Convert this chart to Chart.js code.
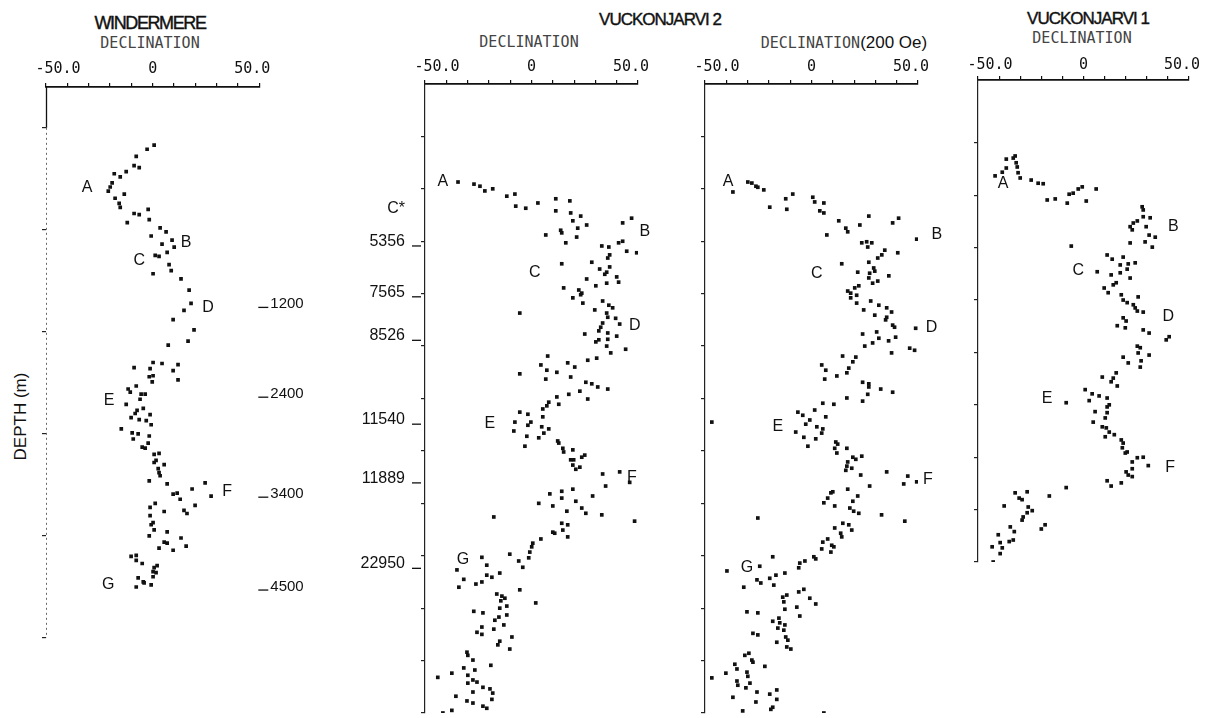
<!DOCTYPE html>
<html>
<head>
<meta charset="utf-8">
<script src="https://cdn.jsdelivr.net/npm/chart.js@4.4.0/dist/chart.umd.min.js"></script>
<style>
    body { margin: 0; background: #fff; width: 1211px; height: 718px; position: relative; overflow: hidden; font-family: 'Liberation Sans', Arial, sans-serif; color: #111; }
    canvas { position: absolute; top: 0; }
    .t { position: absolute; text-align: center; white-space: nowrap; }
    .site { font-size: 17px; line-height: 17px; letter-spacing: -1px; -webkit-text-stroke: 0.4px #111; }
    .sub { font-family: 'DejaVu Sans Mono', monospace; font-size: 15px; line-height: 15px; letter-spacing: 0; color: #444; }
    .oe { font-family: 'Liberation Sans', sans-serif; font-size: 17px; letter-spacing: 0; color: #111; }
    .depth { font-size: 17px; line-height: 17px; }
</style>
</head>
<body>
<div class="t site" style="left:70px;top:15px;width:160px;letter-spacing:-1.4px;font-size:18px">WINDERMERE</div>
<div class="t sub" style="left:70px;top:36px;width:160px">DECLINATION</div>

<div class="t site" style="left:580px;top:11px;width:160px">VUCKONJARVI 2</div>
<div class="t sub" style="left:449px;top:35px;width:160px">DECLINATION</div>
<div class="t sub" style="left:734px;top:35px;width:220px">DECLINATION<span class="oe">(200 Oe)</span></div>

<div class="t site" style="left:1008px;top:10px;width:160px">VUCKONJARVI 1</div>
<div class="t sub" style="left:1002px;top:31px;width:160px">DECLINATION</div>

<div class="t depth" style="left:-40px;top:408px;width:120px;transform:rotate(-90deg)">DEPTH (m)</div>

<canvas id="grafWindermere" width="310" height="718" style="left:0px"></canvas>
<canvas id="grafVuck2" width="330" height="718" style="left:340px"></canvas>
<canvas id="grafVuck2Oe" width="280" height="718" style="left:680px"></canvas>
<canvas id="grafVuck1" width="261" height="718" style="left:950px"></canvas>

<script>
// eixo de declinação (igual nos quatro gráficos)
const xTickValues = [-50, -40, -30, -20, -10, 0, 10, 20, 30, 40, 50];
const xLabelValues = [-50, 0, 50];
const xLabelTexts = ['-50.0', '0', '50.0'];
const letterNames = ['A', 'B', 'C', 'D', 'E', 'F', 'G'];

// WINDERMERE  [declinação, profundidade]
const windermerePoints = [
    [0.7,1.17],[-2.6,1.21],[-7.7,1.28],[-8.7,1.37],[-6.3,1.39],[-12.4,1.43],[-15.2,1.48],[-18.0,1.45],
    [-19.0,1.54],[-19.9,1.58],[-20.8,1.62],[-17.6,1.69],[-13.3,1.65],[-15.7,1.74],[-15.2,1.78],[-8.7,1.84],
    [-6.3,1.85],[-2.1,1.80],[-1.6,1.90],[-11.9,1.93],[3.5,1.98],[6.3,2.02],[-0.7,2.06],[4.4,2.14],
    [9.1,2.10],[10.1,2.17],[1.2,2.25],[3.0,2.26],[6.8,2.22],[7.7,2.34],[8.7,2.40],[0.2,2.43],
    [13.3,2.48],[17.1,2.59],[18.0,2.72],[14.7,2.79],[9.6,2.88],[19.4,2.98],[16.6,3.09],[7.3,3.13],
    [0.2,3.30],[4.4,3.31],[-8.7,3.35],[-1.2,3.36],[11.9,3.32],[9.6,3.38],[-1.6,3.44],[0.2,3.43],
    [-0.2,3.49],[11.9,3.47],[-11.5,3.56],[-7.7,3.53],[-10.5,3.59],[-5.4,3.61],[-3.5,3.61],[-5.9,3.66],
    [-12.4,3.71],[-7.3,3.77],[-8.2,3.80],[-4.4,3.75],[-1.2,3.81],[-10.1,3.84],[-6.3,3.86],[-3.0,3.87],
    [-0.7,3.91],[-14.7,3.95],[-9.6,3.99],[-6.8,4.00],[-1.6,4.02],[-9.1,4.05],[-4.9,4.13],[-3.5,4.14],
    [-2.1,4.09],[0.7,4.20],[3.0,4.19],[1.6,4.26],
    [0.7,4.28],[5.4,4.30],[2.6,4.34],[3.0,4.38],[3.5,4.41],[-1.6,4.46],[6.8,4.49],[18.5,4.54],
    [24.6,4.48],[27.4,4.61],[9.6,4.59],[11.5,4.58],[12.9,4.64],[19.9,4.70],[14.7,4.75],[16.1,4.78],
    [1.2,4.68],[-1.2,4.72],[5.4,4.76],[-1.2,4.80],[0.2,4.87],[-0.7,4.89],[0.7,4.94],[-1.6,5.00],
    [6.8,4.96],[5.4,5.06],[6.8,5.07],[13.3,5.02],[15.7,5.10],[3.0,5.12],[9.6,5.14],[-10.1,5.20],
    [-7.7,5.19],[-7.7,5.24],[-4.9,5.27],[2.1,5.29],[0.7,5.31],[0.2,5.35],[1.6,5.36],[0.2,5.40],
    [-6.8,5.41],[-4.4,5.45],[-4.0,5.46],[-7.7,5.50],[-0.7,5.48]
];
const windermereLetters = [[-30.7,1.59],[15.7,2.12],[-6.3,2.30],[26.0,2.76],[-20.4,3.67],[34.9,4.57],[-20.8,5.48]];
const windermereAges = ['1200', '2400', '3400', '4500'];
const windermereAgeDepths = [2.76, 3.64, 4.62, 5.53];
const windermereDepthTicks = [1, 2, 3, 4, 5, 6];

// VUCKONJARVI 2 - declinação
const vuck2Points = [
    [-34.5,1.87],[-27.0,1.91],[-24.2,1.95],[-21.9,2.04],[-18.2,2.00],[-11.6,2.14],[-7.8,2.10],[-7.4,2.33],
    [-2.7,2.37],[3.0,2.27],[11.4,2.19],[18.0,2.23],[11.4,2.42],[18.4,2.46],[19.4,2.61],[23.1,2.52],
    [21.7,2.75],[25.9,2.69],[6.7,2.88],[13.7,2.79],[14.2,2.84],[21.2,2.92],[42.8,2.65],[47.0,2.56],
    [16.1,3.03],[33.0,3.09],[36.3,3.11],[40.9,3.03],[42.8,3.00],[44.7,3.19],[49.4,3.22],[36.7,3.26],
    [35.8,3.32],[28.3,3.40],[14.2,3.43],[32.0,3.53],[35.3,3.59],[36.7,3.49],[34.4,3.63],[40.0,3.68],
    [40.9,3.78],[25.9,3.72],[30.2,3.85],[35.3,3.80],[15.1,3.89],[22.2,3.93],[23.6,3.99],[19.4,4.08],
    [23.1,4.02],[24.1,4.18],[33.4,4.14],[36.3,4.22],[38.1,4.27],[29.7,4.31],[35.3,4.37],[35.8,4.45],
    [39.5,4.47],[41.4,4.58],[33.4,4.56],[32.5,4.64],[31.6,4.71],[25.0,4.77],[35.8,4.75],[40.0,4.81],
    [30.2,4.92],[31.6,4.88],[35.8,4.87],[35.3,5.00],[37.2,5.13],[44.2,5.06],[7.6,5.19],[4.4,5.36],
    [7.2,5.46],[-5.5,5.53],[17.0,5.32],[20.3,5.40],[11.9,5.50],[6.7,5.63],[18.4,5.59],[26.4,5.27],
    [30.6,5.23],[25.5,5.69],[28.3,5.72],[31.1,5.78],[35.8,5.82],[22.7,5.86],[17.5,5.92],[11.9,5.97],
    [26.4,6.01],[8.1,6.07],[7.2,6.14],[12.8,6.11],[5.3,6.20],[5.3,6.35],[-5.5,6.26],[-1.7,6.30],
    [-0.3,6.45],[-7.8,6.45],[-8.3,6.62],[-1.7,6.51],[4.8,6.54],[8.1,6.58],[5.8,6.66],[3.4,6.75],
    [-2.2,6.72],[-3.1,6.91],[12.3,6.81],[12.8,6.85],[14.7,6.95],[15.1,7.02],[19.4,6.98],[19.8,7.17],
    [18.4,7.17],[19.4,7.27],[22.7,7.31],[20.8,7.35],[25.0,7.08],[23.6,7.12],[33.4,7.44],[41.4,7.40],
    [-5.5,4.37],
    [46.1,7.60],[34.8,7.67],[19.4,7.73],[14.2,7.77],[8.6,7.82],[3.4,8.00],[10.0,8.05],[14.2,7.90],
    [20.8,7.96],[28.7,7.86],[16.6,8.15],[23.6,8.09],[25.5,8.19],[33.0,8.22],[48.4,8.34],[-17.7,8.26],
    [14.2,8.38],[17.0,8.41],[10.0,8.55],[10.9,8.57],[14.7,8.51],[17.0,8.64],[4.4,8.68],[0.6,8.76],
    [0.1,8.83],[-0.8,8.93],[-1.3,9.04],[-10.2,8.97],[-6.0,9.10],[-4.1,9.22],[-5.5,9.65],[2.0,9.90],
    [-23.3,9.03],[-21.0,9.18],[-35.0,9.27],[-31.8,9.45],[-34.1,9.60],[-26.1,9.54],[-23.3,9.50],[-21.0,9.37],
    [-18.6,9.41],[-14.9,9.33],[-16.3,9.73],[-13.9,9.77],[-12.5,9.81],[-14.4,9.86],[-11.6,9.96],[-14.9,10.00],
    [-11.6,10.13],[-13.0,10.32],[-17.2,10.23],[-15.3,10.17],[-17.7,10.40],[-9.2,10.55],[-14.9,10.63],[-15.8,10.70],
    [-10.2,10.78],[-27.1,10.06],[-22.8,10.09],[-23.3,10.36],[-25.6,10.46],[-23.3,10.50],[-30.3,10.84],[-29.9,10.90],
    [-27.5,10.99],[-31.8,11.14],[-26.6,11.18],[-29.9,11.28],[-27.5,11.37],[-25.6,11.41],[-22.8,11.51],[-29.9,11.43],
    [-19.1,11.09],[-37.4,11.24],[-44.0,11.32],[-27.5,11.60],[-19.5,11.54],[-18.2,11.62],[-18.6,11.74],[-35.5,11.68],
    [-30.3,11.77],[-27.5,11.81],[-22.8,11.87],[-21.0,11.91],[-37.4,11.95],[-41.6,12.0]
];
const vuck2Letters = [[-41.6,1.87],[53.2,2.82],[1.5,3.59],[48.5,4.60],[-19.6,6.47],[47.1,7.50],[-32.2,9.08]];
const vuck2Ages = ['C*', '5356', '7565', '8526', '11540', '11889', '22950'];
const vuck2AgeDepths = [2.46, 3.09, 4.06, 4.89, 6.49, 7.61, 9.24];
const vuck2DepthTicks = [1, 2, 3, 4, 5, 6, 7, 8, 9, 10, 11, 12];

// VUCKONJARVI 2 - declinação (200 Oe)
const vuck2OePoints = [
    [-36.9,2.06],[-29.9,1.87],[-28.0,1.89],[-26.1,1.95],[-25.2,1.97],[-22.4,2.02],[-19.6,2.35],[-12.1,2.19],
    [-8.8,2.10],[-11.6,2.39],[0.6,2.16],[1.5,2.25],[5.8,2.27],[3.9,2.42],[5.8,2.46],[7.2,2.88],
    [12.8,2.61],[16.1,2.75],[17.0,2.82],[22.7,2.69],[26.9,2.52],[38.1,2.65],[40.9,2.56],[49.4,2.96],
    [23.6,3.03],[25.9,3.01],[28.3,3.03],[26.4,3.11],[34.4,3.17],[33.0,3.26],[31.1,3.32],[40.5,3.22],
    [14.2,3.43],[26.9,3.40],[21.7,3.59],[29.2,3.51],[29.7,3.57],[27.3,3.61],[26.9,3.70],[28.7,3.80],
    [31.1,3.76],[36.3,3.66],[17.0,3.95],[18.4,3.99],[20.3,3.89],[22.2,3.85],[21.2,4.03],[18.4,4.08],
    [21.2,4.18],[27.8,4.14],[24.5,4.31],[31.6,4.22],[35.3,4.27],[37.6,4.35],[29.7,4.41],[35.3,4.45],
    [34.8,4.50],[38.1,4.60],[39.0,4.64],[24.0,4.77],[30.6,4.73],[25.0,5.00],[28.7,4.94],[31.6,4.85],
    [36.2,4.90],[39.5,4.83],[37.6,5.13],[46.1,5.04],[48.4,5.08],[48.9,4.66],[14.6,5.19],[20.8,5.21],
    [19.4,5.30],[17.5,5.42],[16.6,5.51],[11.9,5.57],[4.8,5.36],[6.7,5.46],[6.2,5.63],[24.0,5.69],
    [26.9,5.72],[26.9,5.78],[32.5,5.82],[38.1,5.88],[26.4,5.92],[24.0,6.05],[16.6,5.99],[10.5,6.11],
    [5.3,6.09],[1.5,6.22],[6.7,6.35],[-6.4,6.26],[-4.1,6.32],[-0.8,6.41],[-2.7,6.49],[2.5,6.54],
    [5.3,6.58],[4.8,6.66],[2.0,6.77],[-7.4,6.64],[-3.6,6.74],[-1.7,6.91],[11.4,6.83],[12.3,6.87],
    [16.6,6.95],[10.9,6.95],[11.9,7.04],[19.4,7.12],[20.8,7.16],[23.6,7.10],[17.0,7.21],[18.9,7.33],
    [16.6,7.29],[16.1,7.37],[23.1,7.46],[35.3,7.40],[45.2,7.48],[-46.8,6.45],
    [43.3,7.63],[49.4,7.59],[27.3,7.67],[17.0,7.73],[10.0,7.78],[9.1,7.80],[7.6,7.90],[5.8,7.99],
    [10.9,8.05],[19.4,7.96],[21.7,7.86],[18.0,8.09],[19.8,8.15],[22.2,8.19],[32.9,8.22],[43.8,8.34],
    [-25.2,8.28],[10.9,8.47],[14.7,8.38],[17.5,8.41],[18.9,8.51],[13.7,8.57],[14.2,8.64],[5.3,8.74],
    [7.6,8.68],[9.5,8.80],[10.5,8.83],[4.8,8.87],[9.1,8.93],[1.1,9.02],[2.0,9.06],[-3.1,9.10],
    [-5.5,9.14],[-6.0,9.23],[-12.5,9.33],[-16.7,9.37],[-19.6,9.43],[-17.7,9.56],[-18.2,9.02],[-24.3,9.20],
    [-25.6,9.46],[-23.8,9.52],[-31.8,9.60],[-39.7,9.29],[-6.0,9.69],[-3.6,9.64],[-0.8,9.81],[2.0,9.92],
    [-11.6,9.75],[-13.5,9.79],[-13.0,9.88],[-12.5,10.02],[-6.9,9.98],[-5.5,10.15],[-18.2,10.25],[-15.3,10.19],
    [-14.9,10.28],[-15.8,10.38],[-12.5,10.32],[-13.0,10.42],[-12.1,10.55],[-11.1,10.61],[-11.6,10.74],[-9.7,10.78],
    [-16.3,10.65],[-30.3,10.07],[-25.2,10.09],[-27.5,10.48],[-25.2,10.51],[-31.3,10.90],[-29.4,10.86],[-28.0,10.99],
    [-27.5,11.03],[-21.9,11.11],[-36.0,11.07],[-35.0,11.16],[-40.2,11.24],[-46.8,11.33],[-30.3,11.22],[-29.9,11.30],
    [-35.0,11.39],[-34.6,11.47],[-28.9,11.43],[-30.8,11.52],[-25.6,11.60],[-19.6,11.64],[-16.3,11.56],[-16.3,11.74],
    [-36.9,11.70],[-26.1,11.79],[-18.2,11.89],[-19.1,11.93],[-32.3,11.96],[5.8,12.0]
];
const vuck2OeLetters = [[-39.2,1.87],[58.8,2.88],[2.5,3.61],[56.4,4.64],[-15.8,6.53],[54.6,7.54],[-30.3,9.22]];

// VUCKONJARVI 1
const vuck1Points = [
    [-41.9,2.63],[-38.5,2.56],[-36.6,2.48],[-36.6,2.31],[-33.3,2.29],[-32.4,2.25],[-31.9,2.38],[-31.4,2.46],
    [-31.0,2.57],[-30.0,2.67],[-24.8,2.71],[-21.5,2.77],[-19.1,2.78],[-17.2,3.09],[-13.4,3.07],[-7.7,3.15],
    [-6.8,2.98],[-4.9,2.96],[-2.5,2.88],[-0.6,2.84],[1.3,3.11],[6.0,2.88],[23.6,3.53],[23.1,3.66],
    [22.1,3.60],[25.5,3.49],[27.8,3.22],[28.3,3.28],[28.3,3.41],[31.6,3.43],[29.7,3.60],[31.1,3.76],
    [34.0,3.80],
    [-5.8,3.97],[22.1,3.91],[29.2,3.89],[32.6,3.99],[11.2,4.14],[13.6,4.22],[18.8,4.18],[17.4,4.33],
    [21.2,4.31],[24.5,4.29],[6.5,4.46],[13.1,4.52],[17.4,4.48],[20.7,4.41],[22.1,4.58],[15.5,4.67],
    [14.1,4.71],[9.8,4.77],[11.7,4.86],[17.9,4.90],[18.8,5.00],[20.7,5.05],[23.6,5.09],[25.5,5.21],
    [25.9,4.94],[24.5,5.15],[28.3,5.23],[18.8,5.34],[20.2,5.40],[16.0,5.49],[19.8,5.53],[28.3,5.57],
    [31.1,5.63],[39.2,5.76],[40.6,5.70],[25.5,5.88],[26.9,5.91],[25.9,6.01],[31.1,6.05],[18.8,6.09],
    [21.2,6.20],[27.3,6.16],[26.9,6.28],[15.5,6.39],[14.1,6.49],[8.9,6.47],[13.1,6.56],[16.0,6.64],
    [0.8,6.71],[4.1,6.79],[2.7,6.92],[7.4,6.83],[11.2,6.87],[11.2,7.04],[12.2,7.00],[5.5,7.13],
    [11.2,7.15],[10.3,7.25],[4.6,7.33],[8.9,7.42],[10.8,7.44],[12.2,7.52],[10.3,7.61],[14.6,7.57],
    [17.9,7.67],[18.8,7.73],[18.4,7.82],[20.7,7.90],[19.8,7.92],[23.1,8.09],[25.5,8.01],[28.3,8.00],
    [30.7,8.16],[20.2,8.28],[23.1,8.22],[21.2,8.34],[23.1,8.37],[17.9,8.49],[11.2,8.45],[13.1,8.55],
    [-8.2,6.96],[-8.2,8.58],[-16.2,8.74],[-32.4,8.68],[-26.7,8.66],[-29.1,8.81],[-30.5,8.78],[-37.6,8.93],
    [-26.2,8.95],[-24.3,9.02],[-26.7,9.06],[-28.6,9.14],[-29.1,9.20],[-18.2,9.29],[-20.0,9.37],[-34.7,9.33],
    [-32.8,9.42],[-40.4,9.48],[-33.3,9.58],[-35.2,9.61],[-39.5,9.63],[-43.3,9.71],[-38.5,9.73],[-39.5,9.84],
    [-42.8,10.0]
];
const vuck1Letters = [[-38.1,2.77],[42.6,3.59],[-2.5,4.43],[40.2,5.32],[-17.2,6.89],[41.1,8.20]];
const vuck1DepthTicks = [2, 3, 4, 5, 6, 7, 8, 9, 10];

// rótulos desenhados por cima: valores do eixo, letras e idades
const marksPlugin = {
    id: 'marks',
    afterDraw(chart, args, o) {
        const { ctx, chartArea: a, scales: { x, y } } = chart;
        const shift = [12, 0, -7];
        ctx.save();
        ctx.fillStyle = '#111';
        ctx.strokeStyle = '#111';
        ctx.lineWidth = 1.3;

        // eixo de profundidade pontilhado (Windermere)
        if (o.dotted) {
            const x0 = Math.round(a.left) + 0.5;
            ctx.beginPath();
            ctx.moveTo(x0, a.top);
            ctx.lineTo(x0, y.getPixelForValue(1));
            ctx.stroke();
            ctx.save();
            ctx.strokeStyle = '#666';
            ctx.lineWidth = 1;
            ctx.setLineDash([2, 3]);
            ctx.beginPath();
            ctx.moveTo(x0, y.getPixelForValue(1));
            ctx.lineTo(x0, a.bottom);
            ctx.stroke();
            ctx.restore();
        }

        ctx.font = '15px "DejaVu Sans Mono"';
        ctx.textAlign = 'center';
        ctx.textBaseline = 'middle';
        xLabelValues.forEach((v, i) => {
            ctx.fillText(xLabelTexts[i], x.getPixelForValue(v) + shift[i], a.top - o.labelGap);
        });

        ctx.font = '16px "Liberation Sans"';
        o.letters.forEach((p, i) => {
            ctx.fillText(letterNames[i], x.getPixelForValue(p[0]), y.getPixelForValue(p[1]));
        });

        if (o.ages) {
            ctx.textBaseline = 'alphabetic';
            o.ages.forEach((txt, i) => {
                const py = y.getPixelForValue(o.ageDepths[i]);
                ctx.beginPath();
                if (o.side === 'left') {
                    ctx.textAlign = 'right';
                    ctx.fillText(txt, a.left - 20, py);
                    if (txt !== 'C*') {
                        ctx.moveTo(a.left - 13, py);
                        ctx.lineTo(a.left - 4, py);
                    }
                } else {
                    ctx.textAlign = 'left';
                    ctx.font = '15px "Liberation Sans"';
                    ctx.fillText(txt, a.right + 11, py + 1);
                    ctx.moveTo(a.right - 1, py);
                    ctx.lineTo(a.right + 9, py);
                }
                ctx.stroke();
            });
        }
        ctx.restore();
    }
};

function criarGrafico(id, pontos, cfg) {
    return new Chart(document.getElementById(id), {
        type: 'scatter',
        data: {
            datasets: [{
                data: pontos.map(p => ({ x: p[0], y: p[1] })),
                pointStyle: 'rect',
                pointRadius: 2.6,
                pointHoverRadius: 2.6,
                backgroundColor: '#111',
                borderWidth: 0
            }]
        },
        options: {
            responsive: false,
            animation: false,
            events: [],
            layout: { padding: cfg.padding },
            plugins: {
                legend: { display: false },
                tooltip: { enabled: false },
                marks: cfg.marks
            },
            scales: {
                x: {
                    type: 'linear',
                    position: 'top',
                    min: -50,
                    max: 50,
                    afterBuildTicks: s => { s.ticks = xTickValues.map(v => ({ value: v })); },
                    afterFit: s => { s.height = 10; },
                    ticks: { display: false },
                    grid: { drawOnChartArea: false, tickLength: 4, color: '#111', lineWidth: 1.2 },
                    border: { color: '#111', width: 1.8 }
                },
                y: {
                    type: 'linear',
                    position: 'left',
                    reverse: true,
                    min: cfg.yMin,
                    max: cfg.yMax,
                    afterBuildTicks: s => { s.ticks = cfg.yTicks.map(v => ({ value: v })); },
                    afterFit: s => { s.width = 10; },
                    ticks: { display: false },
                    grid: { drawOnChartArea: false, tickLength: 4, color: '#222', lineWidth: 1.2 },
                    border: { display: !cfg.marks.dotted, color: '#222', width: 1.2 }
                }
            }
        },
        plugins: [marksPlugin]
    });
}

criarGrafico('grafWindermere', windermerePoints, {
    padding: { left: 36, right: 50.7, top: 77, bottom: 80 },
    yMin: 0.6, yMax: 6, yTicks: windermereDepthTicks,
    marks: { labelGap: 18, letters: windermereLetters, ages: windermereAges, ageDepths: windermereAgeDepths, side: 'right', dotted: true }
});

criarGrafico('grafVuck2', vuck2Points, {
    padding: { left: 75, right: 32, top: 74, bottom: 5 },
    yMin: 0, yMax: 12, yTicks: vuck2DepthTicks,
    marks: { labelGap: 17, letters: vuck2Letters, ages: vuck2Ages, ageDepths: vuck2AgeDepths, side: 'left' }
});

criarGrafico('grafVuck2Oe', vuck2OePoints, {
    padding: { left: 15, right: 42, top: 74, bottom: 5 },
    yMin: 0, yMax: 12, yTicks: vuck2DepthTicks,
    marks: { labelGap: 17, letters: vuck2OeLetters }
});

criarGrafico('grafVuck1', vuck1Points, {
    padding: { left: 18, right: 22, top: 70, bottom: 156 },
    yMin: 0.8, yMax: 10, yTicks: vuck1DepthTicks,
    marks: { labelGap: 15, letters: vuck1Letters }
});
</script>
</body>
</html>
